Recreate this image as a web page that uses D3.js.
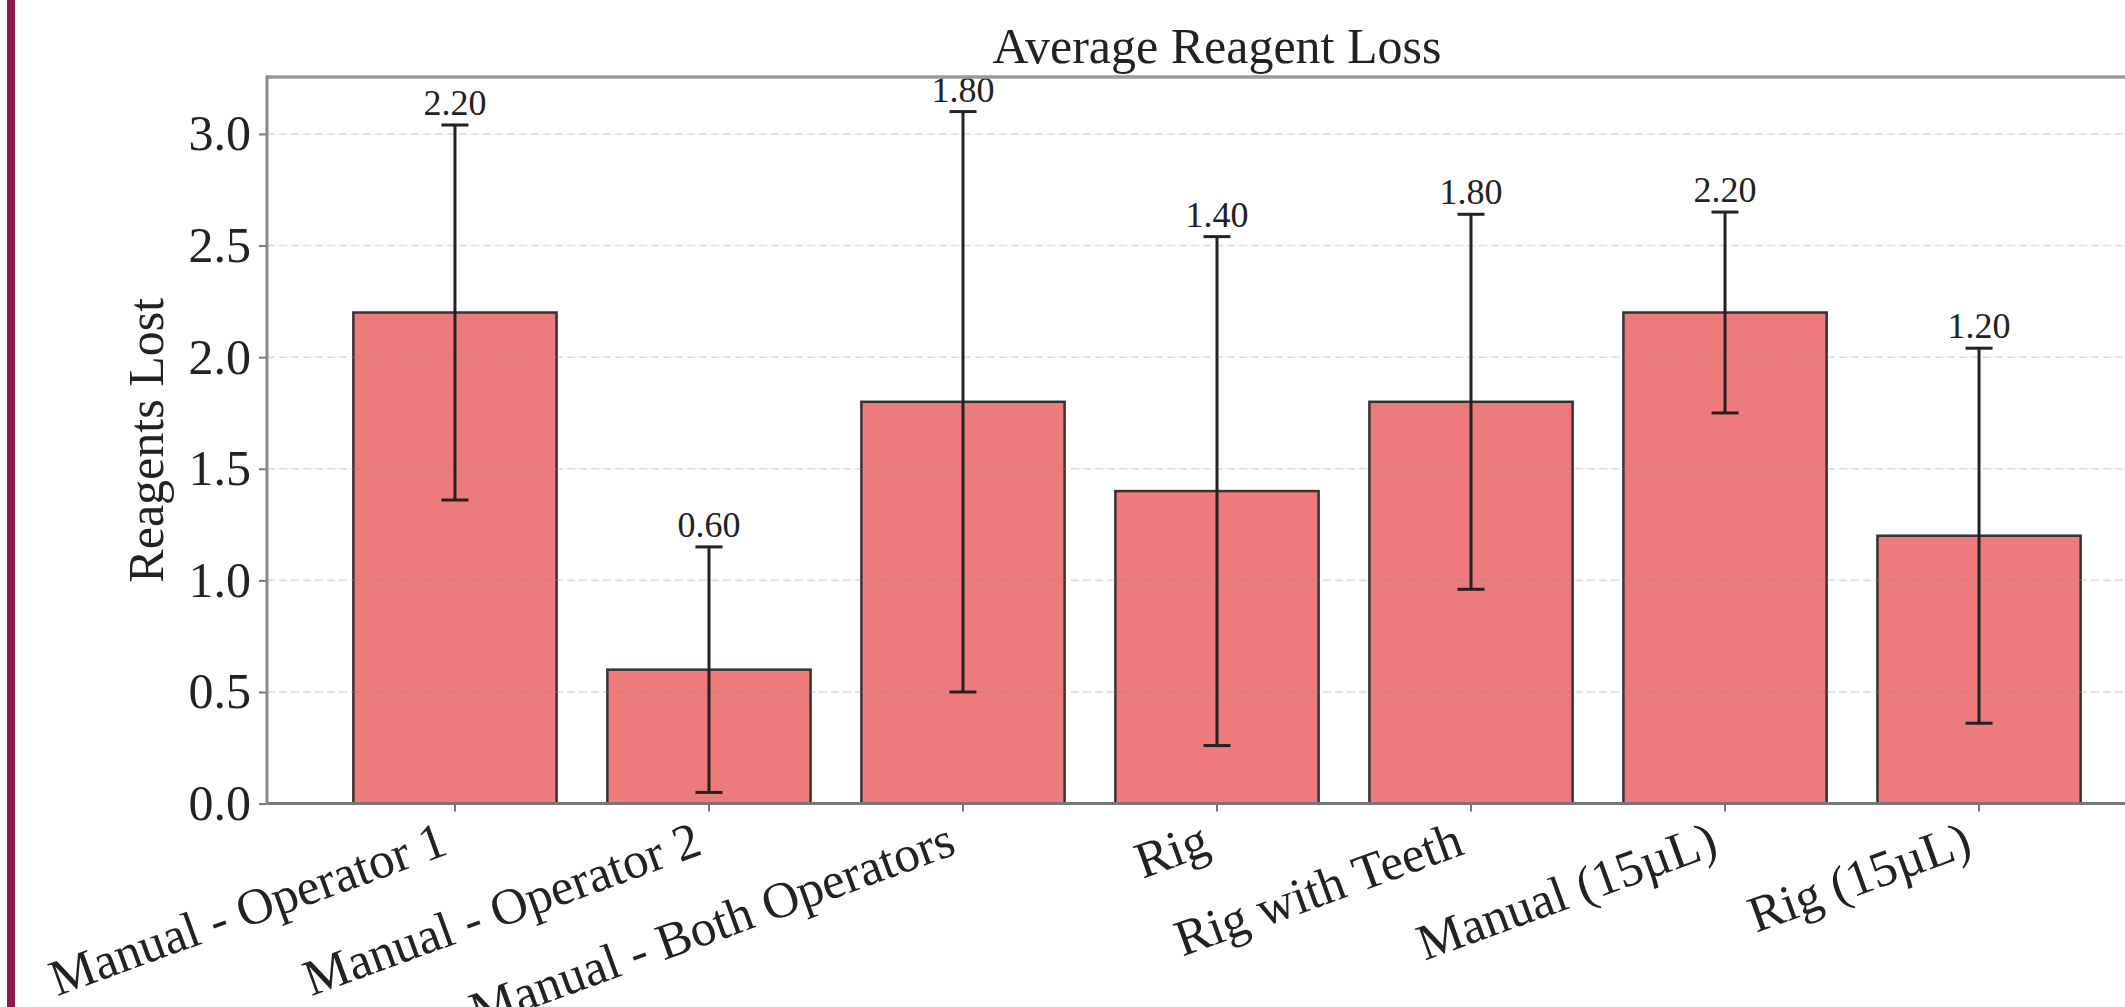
<!DOCTYPE html>
<html>
<head>
<meta charset="utf-8">
<script src="https://cdn.jsdelivr.net/npm/d3@7"></script>
<style>
    body { margin: 0; background: #fff; }
    text { font-family: "Liberation Serif", "Times New Roman", serif; fill: #222; }
</style>
</head>
<body>
<div id="vis1"></div>
<script>
var WIDTH = 2125
var HEIGHT = 1007

// data
var categories = ["Manual - Operator 1", "Manual - Operator 2", "Manual - Both Operators", "Rig", "Rig with Teeth", "Manual (15µL)", "Rig (15µL)"];
var means = [2.2, 0.6, 1.8, 1.4, 1.8, 2.2, 1.2];
var errors = [0.84, 0.55, 1.30, 1.14, 0.84, 0.45, 0.84];
var yTicks = [0, 0.5, 1.0, 1.5, 2.0, 2.5, 3.0];

// axes box (right side is cut off in the original picture)
var axLeft = 267, axRight = 2167, axTop = 77, axBottom = 803.6;

const svg = d3.select('#vis1').append('svg')
    .attr('width', WIDTH)
    .attr('height', HEIGHT)

svg.append('rect').attr('width', WIDTH).attr('height', HEIGHT).attr('fill', '#fff');

// maroon strip on the left edge
svg.append('rect')
    .attr('x', 7).attr('y', 0)
    .attr('width', 8).attr('height', HEIGHT)
    .attr('fill', '#8c1c4c');

var x = d3.scaleBand()
    .domain(categories)
    .range([axLeft, axRight])
    .paddingInner(0.2)
    .paddingOuter(0.34);

var y = d3.scaleLinear()
    .domain([0, 3.255])
    .range([axBottom, axTop]);

var data = categories.map((c, i) => ({ name: c, mean: means[i], err: errors[i] }));

// bars
svg.selectAll('rect.bar')
    .data(data)
    .enter()
    .append('rect')
    .attr('class', 'bar')
    .attr('x', d => x(d.name))
    .attr('y', d => y(d.mean))
    .attr('width', x.bandwidth())
    .attr('height', d => y(0) - y(d.mean))
    .attr('fill', '#ed7b7b')
    .attr('stroke', '#333')
    .attr('stroke-width', 2.5);

// dashed grid, drawn over the bars but faint
svg.selectAll('line.grid')
    .data(yTicks.filter(t => t > 0))
    .enter()
    .append('line')
    .attr('class', 'grid')
    .attr('x1', axLeft).attr('x2', WIDTH)
    .attr('y1', d => y(d)).attr('y2', d => y(d))
    .attr('stroke', 'rgba(140,140,140,0.3)')
    .attr('stroke-width', 1.5)
    .attr('stroke-dasharray', '8,4');

// error bars
var cx = d => x(d.name) + x.bandwidth() / 2;
var eb = svg.selectAll('g.err')
    .data(data)
    .enter()
    .append('g')
    .attr('class', 'err')
    .attr('stroke', '#222')
    .attr('stroke-width', 3);

eb.append('line')
    .attr('x1', cx).attr('x2', cx)
    .attr('y1', d => y(d.mean - d.err))
    .attr('y2', d => y(d.mean + d.err));
eb.append('line')
    .attr('x1', d => cx(d) - 13.5).attr('x2', d => cx(d) + 13.5)
    .attr('y1', d => y(d.mean + d.err)).attr('y2', d => y(d.mean + d.err));
eb.append('line')
    .attr('x1', d => cx(d) - 13.5).attr('x2', d => cx(d) + 13.5)
    .attr('y1', d => y(d.mean - d.err)).attr('y2', d => y(d.mean - d.err));

// value labels above the caps
svg.selectAll('text.val')
    .data(data)
    .enter()
    .append('text')
    .attr('class', 'val')
    .attr('x', cx)
    .attr('y', d => y(d.mean + d.err) - 10)
    .attr('text-anchor', 'middle')
    .attr('font-size', 36)
    .text(d => d.mean.toFixed(2));

// y axis
var yAxis = svg.append('g')
    .attr('transform', 'translate(' + axLeft + ',0)')
    .call(d3.axisLeft(y).tickValues(yTicks).tickFormat(d3.format('.1f')).tickSize(8).tickPadding(8));
yAxis.select('.domain').remove();
yAxis.selectAll('line').attr('stroke', '#777').attr('stroke-width', 2);
yAxis.selectAll('text').attr('font-size', 50).attr('fill', '#222');

// x axis: ticks only, labels drawn rotated below
var xAxis = svg.append('g')
    .attr('transform', 'translate(0,' + axBottom + ')')
    .call(d3.axisBottom(x).tickSize(8).tickFormat(''));
xAxis.select('.domain').remove();
xAxis.selectAll('line').attr('stroke', '#777').attr('stroke-width', 2);

var fsX = 51;
svg.selectAll('text.xlab')
    .data(categories)
    .enter()
    .append('text')
    .attr('class', 'xlab')
    .attr('font-size', fsX)
    .attr('text-anchor', 'end')
    .attr('dominant-baseline', 'hanging')
    .attr('transform', d => 'translate(' + (x(d) + x.bandwidth() / 2 - 0.342 * fsX) + ',' + (axBottom + 16) + ') rotate(-20)')
    .text(d => d);

// spines
svg.append('line').attr('x1', axLeft).attr('x2', WIDTH).attr('y1', axTop).attr('y2', axTop)
    .attr('stroke', '#9a9a9a').attr('stroke-width', 3.5);
svg.append('line').attr('x1', axLeft).attr('x2', WIDTH).attr('y1', axBottom).attr('y2', axBottom)
    .attr('stroke', '#777').attr('stroke-width', 3);
svg.append('line').attr('x1', axLeft).attr('x2', axLeft).attr('y1', axTop - 1.5).attr('y2', axBottom + 1.5)
    .attr('stroke', '#888').attr('stroke-width', 3);

// title and y label
svg.append('text')
    .attr('x', (axLeft + axRight) / 2)
    .attr('y', 63)
    .attr('text-anchor', 'middle')
    .attr('font-size', 50)
    .text('Average Reagent Loss');

svg.append('text')
    .attr('transform', 'translate(163,' + ((axTop + axBottom) / 2) + ') rotate(-90)')
    .attr('text-anchor', 'middle')
    .attr('font-size', 50)
    .text('Reagents Lost');
</script>
</body>
</html>
